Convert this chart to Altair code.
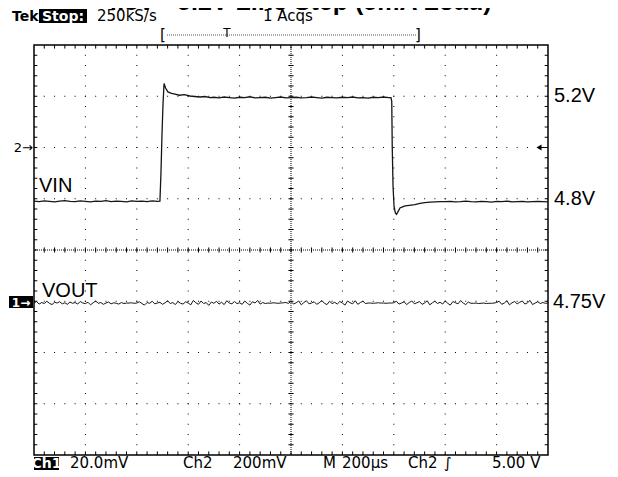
import altair as alt
import pandas as pd

# ---------------- data ----------------
# Time base: 200 us/div, 10 divisions -> 0..2000 us.  Vertical: 8 divisions (-4..4)
x_domain = [0, 2000]
y_domain = [-4, 4]
major_x = [200, 400, 600, 800, 1200, 1400, 1600, 1800]
major_y = [-3, -2, -1, 1, 2, 3]
minor_x = [40 * i for i in range(1, 50)]
minor_y = [round(-4 + 0.2 * i, 2) for i in range(1, 40)]

# Ch2 (VIN), 200 mV/div, reference marker (5.0 V) at +2 div
ch2_ref_v = 5.0
ch2_vdiv = 0.2
ch2_ref_div = 2

vin_t = (list(range(0, 481, 20))
         + [490, 494, 498, 502, 506, 512, 521, 535, 549, 565, 585, 607, 625, 646, 665, 685]
         + list(range(700, 1381, 20))
         + [1389, 1392, 1394, 1397, 1401, 1406, 1411, 1416, 1424, 1434, 1444, 1460, 1482, 1502, 1521, 1541, 1560, 1580]
         + list(range(1600, 2001, 20)))
vin_v = ([4.791, 4.789, 4.792, 4.790, 4.788, 4.791, 4.793, 4.790, 4.789, 4.792,
          4.790, 4.788, 4.791, 4.790, 4.793, 4.789, 4.791, 4.790, 4.788, 4.792,
          4.790, 4.791, 4.789, 4.792, 4.790]
         + [4.791, 4.90, 5.05, 5.17, 5.250, 5.232, 5.217, 5.211, 5.208, 5.204,
            5.206, 5.201, 5.199, 5.197, 5.199, 5.195]
         + [5.196, 5.194, 5.197, 5.195, 5.193, 5.196, 5.195, 5.198, 5.194, 5.195,
            5.196, 5.193, 5.195, 5.197, 5.194, 5.195, 5.196, 5.194, 5.195, 5.197,
            5.195, 5.193, 5.196, 5.195, 5.194, 5.196, 5.195, 5.197, 5.194, 5.195,
            5.193, 5.196, 5.195, 5.197, 5.195]
         + [5.195, 5.18, 5.00, 4.85, 4.77, 4.745, 4.739, 4.749, 4.764, 4.768,
            4.772, 4.774, 4.777, 4.782, 4.785, 4.787, 4.788, 4.789]
         + [4.789, 4.790, 4.788, 4.789, 4.791, 4.789, 4.788, 4.790, 4.789, 4.787,
            4.790, 4.789, 4.791, 4.788, 4.789, 4.790, 4.788, 4.789, 4.790, 4.789,
            4.788])

# Ch1 (VOUT), 20 mV/div, marker (4.75 V) at -1.015 div; deviation in mV
ch1_ref_div = -1.015
ch1_mvdiv = 20.0
vout_t = list(range(0, 2001, 10))
vout_mv = [
    -0.4, 0.2, -0.8, -0.2, -0.6, 0.3, -0.5, -1.0, -0.1, -0.4,
    0.1, -0.7, -0.3, -0.9, 0.0, -0.5, -0.2, -0.8, 0.2, -0.4,
    -0.6, -0.1, -1.1, -0.3, 0.4, -0.5, -0.2, -0.9, -0.4, 0.0,
    -0.7, -0.3, -0.5, -0.8, -0.2, -0.6, -0.4, -0.4, -0.3, -0.5,
    -0.4, 0.1, -0.6, -1.2, -0.2, -0.5, 0.3, -0.7, -0.4, -0.1,
    -0.9, -0.3, 0.5, -0.6, -0.2, -1.0, 0.2, -0.5, -0.8, 0.1,
    -0.4, -1.1, 0.6, -0.3, -0.9, 0.4, -0.6, -0.2, -1.3, 0.0,
    -0.5, 0.3, -0.8, -0.1, -1.0, 0.5, -0.4, -0.7, 0.2, -0.6,
    -0.3, -0.9, 0.4, -0.5, -1.2, 0.1, -0.4, 0.6, -0.8, -0.2,
    -0.6, -0.4, -0.5, -0.3, -0.4, -0.5, -0.4, -0.3, -0.2, -0.5,
    0.2, -0.8, -0.3, 0.4, -1.1, -0.2, 0.5, -0.7, -0.4, 0.1,
    -0.9, -0.3, 0.6, -0.5, -1.0, 0.3, -0.6, -0.1, -0.8, 0.2,
    -0.4, -1.2, 0.4, -0.3, -0.7, 0.5, -0.9, -0.2, 0.3, -0.6,
    -0.4, -0.4, -0.5, -0.4, -0.3, -0.4, -0.4, -0.5, -0.4, -0.4,
    -0.3, 0.3, -0.8, -0.4, 0.1, -1.0, -0.2, 0.4, -0.7, -0.3,
    0.2, -0.9, -0.4, 0.5, -1.1, -0.3, 0.3, -0.6, -0.1, -0.8,
    0.4, -0.5, -1.2, 0.2, -0.3, -0.7, 0.6, -0.4, -1.0, 0.0,
    -0.5, -0.5, -0.4, -0.6, -0.5, -0.4, -0.6, -0.5, -0.5, -0.4,
    -0.2, 0.3, -0.9, -0.4, 0.5, -1.1, -0.3, 0.2, -0.7, -0.1,
    0.4, -0.8, -0.3, 0.6, -1.0, -0.4, 0.1, -0.6, -0.2, -0.5,
    -0.4,
]

level_labels = ["5.2V", "4.8V"]
level_volts = [5.2, 4.8]
vout_label = "4.75V"

title_text = "4.8V - 5.2V Line Step (5mA Load)"
header_items = ["Tek", "Stop:", "250kS/s", "1 Acqs"]
footer_items = ["Ch1", "20.0mV", "Ch2", "200mV", "M", "200\u00b5s", "Ch2", "\u222b", "5.00 V"]

# ---------------- build ----------------
xs = alt.Scale(domain=x_domain, nice=False, zero=False)
ys = alt.Scale(domain=y_domain, nice=False, zero=False)
X = lambda f: alt.X(f, type="quantitative", scale=xs, axis=None)
Y = lambda f: alt.Y(f, type="quantitative", scale=ys, axis=None)

df_vin = pd.DataFrame({"t": vin_t, "v": vin_v})
df_vin["d"] = ch2_ref_div + (df_vin["v"] - ch2_ref_v) / ch2_vdiv
df_vout = pd.DataFrame({"t": vout_t, "mv": vout_mv})
df_vout["d"] = ch1_ref_div + df_vout["mv"] / ch1_mvdiv

one = pd.DataFrame({"a": [0]})
INK = "black"


def txt(s, x, y, size=13, weight="normal", color=INK, align="left",
        baseline="alphabetic", font="DejaVu Sans"):
    return alt.Chart(one).mark_text(
        text=s, fontSize=size, fontWeight=weight, color=color, align=align,
        baseline=baseline, font=font
    ).encode(x=alt.value(x), y=alt.value(y))


def rect(x1, x2, y1, y2, color=INK):
    return alt.Chart(one).mark_rect(color=color).encode(
        x=alt.value(x1), x2=alt.value(x2), y=alt.value(y1), y2=alt.value(y2))


layers = []

# dotted graticule
layers.append(alt.Chart(pd.DataFrame({"t": major_x})).mark_rule(
    color=INK, strokeWidth=1, strokeDash=[1, 9.25], strokeDashOffset=0.5
).encode(x=X("t")))
layers.append(alt.Chart(pd.DataFrame({"d": major_y})).mark_rule(
    color=INK, strokeWidth=1, strokeDash=[1, 9.28], strokeDashOffset=0.5
).encode(y=Y("d")))
# centre cross
layers.append(alt.Chart(pd.DataFrame({"t": [1000]})).mark_rule(
    color=INK, strokeWidth=1, strokeDash=[1, 1]).encode(x=X("t")))
layers.append(alt.Chart(pd.DataFrame({"d": [0]})).mark_rule(
    color=INK, strokeWidth=1, strokeDash=[1, 1]).encode(y=Y("d")))
# ticks on centre cross
cx = pd.DataFrame({"t": minor_x})
cx["y1"], cx["y2"] = -0.05, 0.05
layers.append(alt.Chart(cx).mark_rule(color=INK, strokeWidth=1).encode(
    x=X("t"), y=Y("y1"), y2="y2"))
cy = pd.DataFrame({"d": minor_y})
cy["x1"], cy["x2"] = 990, 1010
layers.append(alt.Chart(cy).mark_rule(color=INK, strokeWidth=1).encode(
    y=Y("d"), x=X("x1"), x2="x2"))
# ticks on frame edges
for y1, y2 in [(4, 3.93), (-4, -3.93)]:
    e = pd.DataFrame({"t": minor_x})
    e["y1"], e["y2"] = y1, y2
    layers.append(alt.Chart(e).mark_rule(color=INK, strokeWidth=1).encode(
        x=X("t"), y=Y("y1"), y2="y2"))
for x1, x2 in [(0, 13), (2000, 1987)]:
    e = pd.DataFrame({"d": minor_y})
    e["x1"], e["x2"] = x1, x2
    layers.append(alt.Chart(e).mark_rule(color=INK, strokeWidth=1).encode(
        y=Y("d"), x=X("x1"), x2="x2"))

# traces
layers.append(alt.Chart(df_vin).mark_line(color="#151515", strokeWidth=1.3).encode(
    x=X("t"), y=Y("d")))
layers.append(alt.Chart(df_vout).mark_line(color="#151515", strokeWidth=1).encode(
    x=X("t"), y=Y("d")))

# right-side level labels
lv = pd.DataFrame({"label": level_labels, "v": level_volts})
lv["d"] = ch2_ref_div + (lv["v"] - ch2_ref_v) / ch2_vdiv
layers.append(alt.Chart(lv).mark_text(
    align="left", baseline="middle", fontSize=20, font="Liberation Sans", color=INK
).encode(x=alt.value(520), y=Y("d"), text="label:N"))
layers.append(alt.Chart(one).mark_text(
    text=vout_label, align="left", baseline="middle", fontSize=20,
    font="Liberation Sans", color=INK
).encode(x=alt.value(519), y=alt.Y(datum=ch1_ref_div, scale=ys, axis=None)))

# trace names
layers.append(txt("VIN", 5, 147, size=20, font="Liberation Sans"))
layers.append(txt("VOUT", 8, 252, size=20, font="Liberation Sans"))

# channel markers
layers.append(alt.Chart(one).mark_text(
    text="2\u2192", align="right", baseline="middle", fontSize=13,
    font="DejaVu Sans", color=INK
).encode(x=alt.value(-1), y=alt.Y(datum=ch2_ref_div, scale=ys, axis=None)))
layers.append(rect(-25, -1, 251, 263))
layers.append(txt("1\u2192", -13, 257.5, size=12, weight="bold", color="white",
                  align="center", baseline="middle"))
# trigger level marker
layers.append(alt.Chart(one).mark_point(
    shape="triangle-left", filled=True, size=35, color=INK, opacity=1
).encode(x=alt.value(505), y=alt.Y(datum=ch2_ref_div, scale=ys, axis=None)))
layers.append(alt.Chart(one).mark_rule(color=INK, strokeWidth=1).encode(
    x=alt.value(507), x2=alt.value(514),
    y=alt.Y(datum=ch2_ref_div, scale=ys, axis=None)))

# header (the title is cut off by the top edge, as in the screenshot)
layers.append(txt(title_text, 263.5, -35, size=25, weight="bold", align="center",
                  font="Liberation Sans"))
layers.append(txt(header_items[0], -22, -24, size=14, weight="bold"))
layers.append(rect(5, 53, -36, -22))
layers.append(txt(header_items[1], 29, -24, size=14, weight="bold", color="white",
                  align="center"))
layers.append(txt(header_items[2], 63, -24, size=15))
layers.append(txt(header_items[3], 229, -24, size=15))
# record bar
layers.append(alt.Chart(one).mark_rule(color="#555", strokeWidth=1, strokeDash=[1, 1]).encode(
    x=alt.value(133), x2=alt.value(382), y=alt.value(-10)))
layers.append(txt("[", 129, -10, size=15, baseline="middle", align="center"))
layers.append(txt("]", 384, -10, size=15, baseline="middle", align="center"))
layers.append(txt("T", 193, -12, size=12, baseline="middle", align="center"))

# footer
layers.append(rect(0, 25, 412, 425))
layers.append(txt(footer_items[0], 12.5, 423, size=14, weight="bold", color="white",
                  align="center"))
footer_x = [None, 36, 149, 199, 289, 308, 374, 410, 458]
for s, fx in zip(footer_items[1:], footer_x[1:]):
    layers.append(txt(s, fx, 423, size=15))

chart = alt.layer(*layers).properties(
    width=514, height=410,
    autosize=alt.AutoSizeParams(type="none"),
    padding={"left": 26, "top": 37, "right": 62, "bottom": 16},
    background="white",
).configure_view(stroke="black", strokeWidth=1.5)

chart.save("out.html", embed_options={"renderer": "svg", "actions": False})
